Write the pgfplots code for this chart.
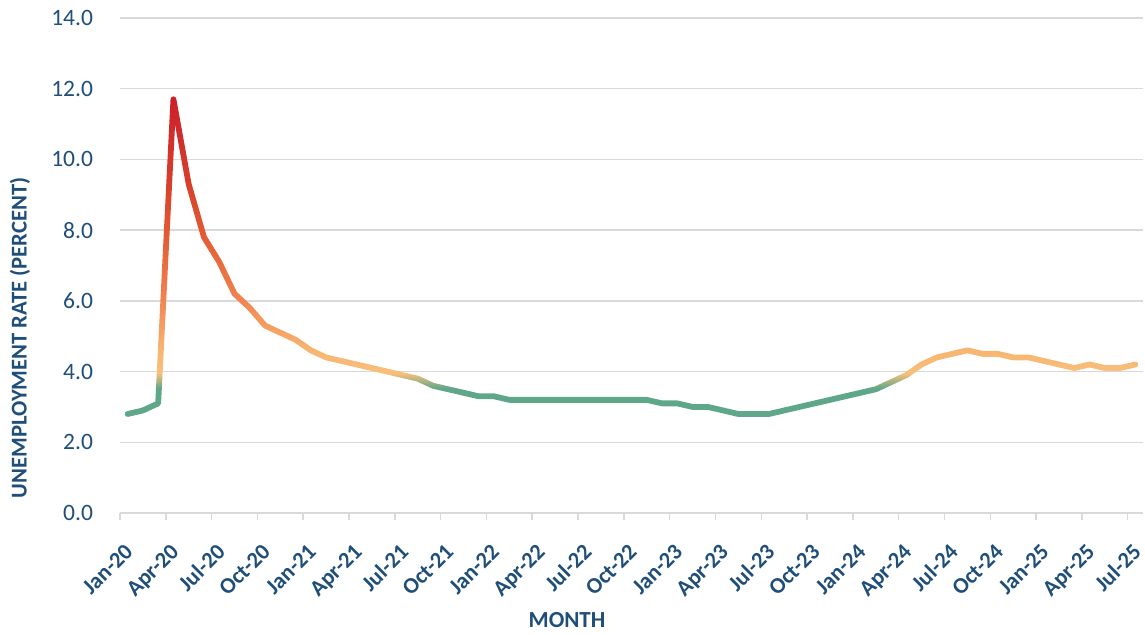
\documentclass[border=0pt]{standalone}
\usepackage{fontspec}
\setmainfont{Carlito}
\usepackage{pgfplots}
\usepackage{pgfplotstable}
\usetikzlibrary{fadings}
\pgfplotsset{compat=1.18}
\definecolor{textblue}{RGB}{31,78,121}
\definecolor{gridgray}{RGB}{217,217,217}
\definecolor{cgreen}{RGB}{95,167,137}
\definecolor{cpeach}{RGB}{248,191,123}
\definecolor{cpeach2}{RGB}{247,182,114}
\definecolor{corange1}{RGB}{245,158,98}
\definecolor{corange}{RGB}{240,128,78}
\definecolor{cred1}{RGB}{227,92,52}
\definecolor{cred2}{RGB}{215,64,44}
\definecolor{cred}{RGB}{204,32,42}
% vertical shading: axis box (0..14) mapped to 25bp..75bp
\pgfdeclareverticalshading{unempshade}{100bp}{
  color(0bp)=(cgreen); color(35bp)=(cgreen); color(37.6bp)=(cgreen);
  color(39.1bp)=(cpeach); color(41.4bp)=(cpeach2); color(43.9bp)=(corange1);
  color(47.1bp)=(corange); color(52.9bp)=(cred1); color(58.2bp)=(cred2);
  color(66.8bp)=(cred); color(100bp)=(cred)}
\pgfplotstableread{
x y
0.5 2.8
1.5 2.9
2.5 3.1
3.5 11.7
4.5 9.3
5.5 7.8
6.5 7.1
7.5 6.2
8.5 5.8
9.5 5.3
10.5 5.1
11.5 4.9
12.5 4.6
13.5 4.4
14.5 4.3
15.5 4.2
16.5 4.1
17.5 4.0
18.5 3.9
19.5 3.8
20.5 3.6
21.5 3.5
22.5 3.4
23.5 3.3
24.5 3.3
25.5 3.2
26.5 3.2
27.5 3.2
28.5 3.2
29.5 3.2
30.5 3.2
31.5 3.2
32.5 3.2
33.5 3.2
34.5 3.2
35.5 3.1
36.5 3.1
37.5 3.0
38.5 3.0
39.5 2.9
40.5 2.8
41.5 2.8
42.5 2.8
43.5 2.9
44.5 3.0
45.5 3.1
46.5 3.2
47.5 3.3
48.5 3.4
49.5 3.5
50.5 3.7
51.5 3.9
52.5 4.2
53.5 4.4
54.5 4.5
55.5 4.6
56.5 4.5
57.5 4.5
58.5 4.4
59.5 4.4
60.5 4.3
61.5 4.2
62.5 4.1
63.5 4.2
64.5 4.1
65.5 4.1
66.5 4.2
}\ratedata
\pgfplotsset{
  baseaxis/.style={
    scale only axis,
    at={(-255.75pt,-123.75pt)}, anchor=south west,
    width=511.5pt, height=247.5pt,
    xmin=0, xmax=67, ymin=0, ymax=14,
    enlargelimits=false, clip=false,
  }
}
\begin{tikzfadingfrompicture}[name=linemask]
\begin{axis}[baseaxis, hide axis]
\addplot[draw=white, line width=2.9pt, line cap=round, line join=round] table[x=x,y=y] {\ratedata};
\end{axis}
\pgfresetboundingbox
\path (-255.75pt,-123.75pt) rectangle (255.75pt,123.75pt);
\end{tikzfadingfrompicture}
\begin{document}
\begin{tikzpicture}
\begin{axis}[
  baseaxis,
  axis lines*=left,
  y axis line style={draw=none},
  x axis line style={gridgray, line width=1pt},
  ytick={0,2,...,14},
  ytick style={draw=none},
  xtick={0,3,...,66},
  xticklabels={Jan-20,Apr-20,Jul-20,Oct-20,Jan-21,Apr-21,Jul-21,Oct-21,Jan-22,Apr-22,Jul-22,Oct-22,Jan-23,Apr-23,Jul-23,Oct-23,Jan-24,Apr-24,Jul-24,Oct-24,Jan-25,Apr-25,Jul-25},
  xtick style={gridgray, line width=0.75pt},
  tick align=outside,
  major tick length=3.5pt,
  ymajorgrids,
  major grid style={gridgray, line width=0.75pt},
  /pgf/number format/assume math mode=true,
  yticklabel style={font=\fontsize{11.75}{14}\selectfont, text=textblue, xshift=-6.5pt, /pgf/number format/.cd, fixed, fixed zerofill, precision=1},
  xticklabel style={font=\bfseries\fontsize{11.25}{13}\selectfont, text=textblue, xshift=1.8pt, yshift=-11pt, rotate=45, anchor=north east, inner sep=0pt},
  xlabel={MONTH},
  ylabel={UNEMPLOYMENT RATE (PERCENT)},
  xlabel style={font=\bfseries\fontsize{11.5}{14}\selectfont, text=textblue, at={(axis description cs:0.437,-0.216)}, anchor=center},
  ylabel style={font=\bfseries\fontsize{11.3}{14}\selectfont, text=textblue, at={(axis description cs:-0.0978,0.354)}, anchor=center},
]
\addplot[draw=none] table[x=x,y=y] {\ratedata};
\end{axis}
\shade[shading=unempshade, path fading=linemask, fit fading=false] (-255.75pt,-123.75pt) rectangle (255.75pt,123.75pt);
\pgfresetboundingbox
\path (-315.75pt,-184.75pt) rectangle (256.75pt,132.75pt);
\end{tikzpicture}
\end{document}
